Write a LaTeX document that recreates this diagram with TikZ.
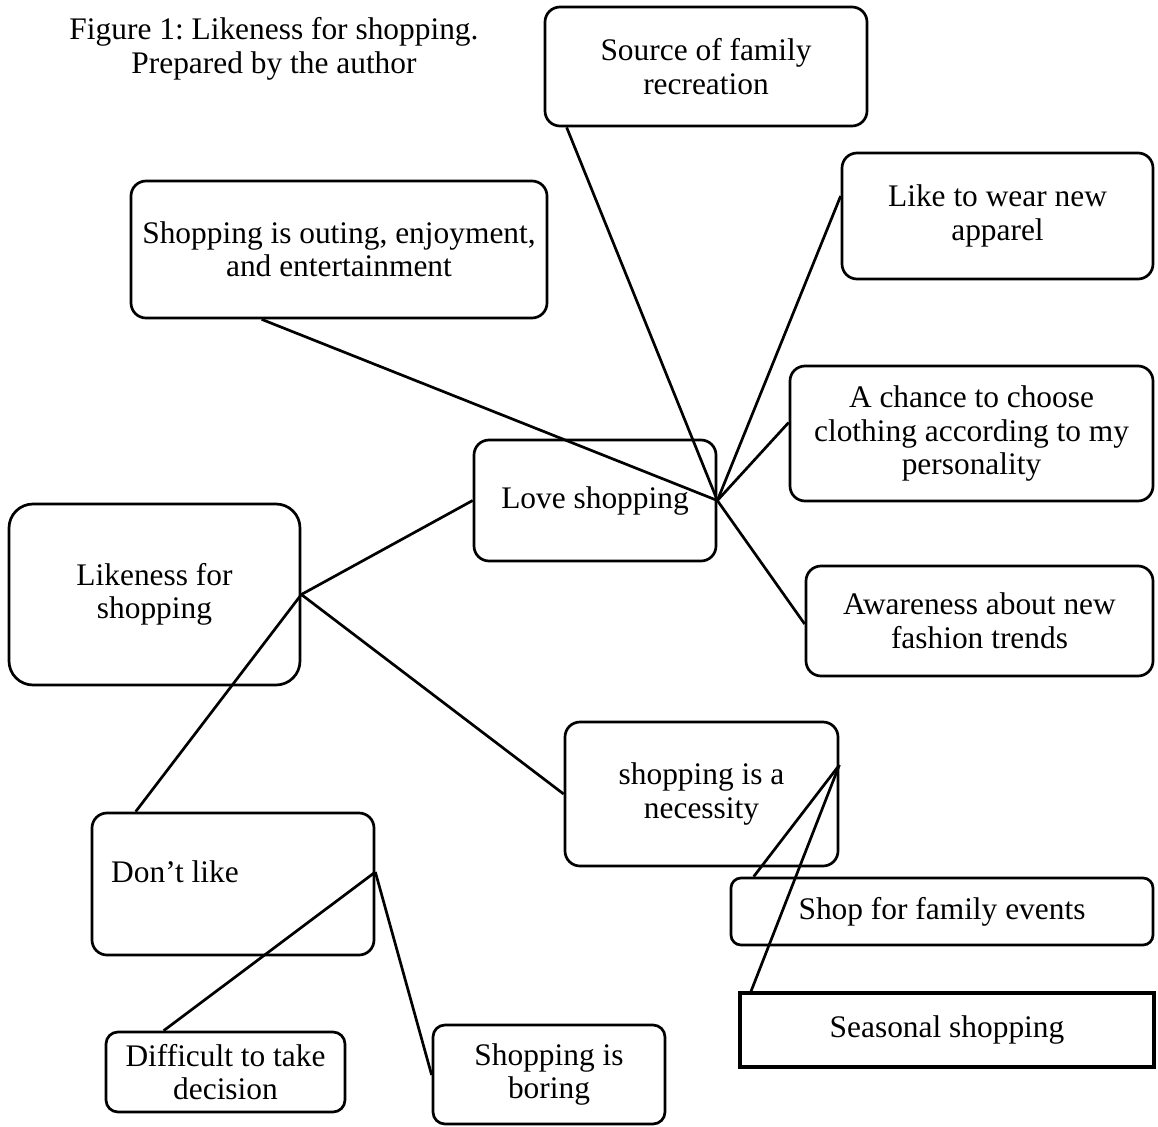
\documentclass[tikz,border=0pt]{standalone}
\usepackage{fontspec}
\setmainfont{Liberation Serif}
\usetikzlibrary{calc}
\frenchspacing
\begin{document}
\begin{tikzpicture}[x=1pt,y=-1pt,
  txt/.style={font=\fontsize{31.4}{33.5}\selectfont, align=center, inner sep=0pt},
  box/.style={txt, draw, line width=2.7pt, rounded corners=15pt},
  link/.style={line width=2.7pt}]
\useasboundingbox (0,0) rectangle (1158,1126);
\node[txt] (title) at (274,49) {Figure 1: Likeness for shopping.\\Prepared by the author};
\node[box, minimum width=322, minimum height=119] (source) at (706,66.5) {Source of family\\recreation};
\node[box, minimum width=416, minimum height=137] (outing) at (339,249.5) {Shopping is outing, enjoyment,\\and entertainment};
\node[box, minimum width=311, minimum height=126] (wear) at (997.5,216) {Like to wear new\\apparel};
\node[box, minimum width=363, minimum height=135] (chance) at (971.5,433.5) {A chance to choose\\clothing according to my\\personality};
\node[box, minimum width=242, minimum height=121] (love) at (595,500.5) {Love shopping};
\node[box, minimum width=347, minimum height=110] (aware) at (979.5,621) {Awareness about new\\fashion trends};
\node[box, rounded corners=24pt, minimum width=291, minimum height=181] (likeness) at (154.5,594.5) {Likeness for\\shopping};
\node[box, minimum width=273, minimum height=144] (nec) at (701.5,794) {shopping is a\\necessity};
\node[box, minimum width=282, minimum height=142] (dont) at (233,884) {};
\node[txt, anchor=west] (donttext) at (111,872) {Don’t like};
\node[box, rounded corners=10pt, minimum width=422, minimum height=67] (family) at (942,911.5) {Shop for family events};
\node[box, rounded corners=0pt, line width=3.8pt, minimum width=414, minimum height=74] (seasonal) at (947,1030) {Seasonal shopping};
\node[box, rounded corners=12pt, minimum width=239, minimum height=80] (difficult) at (225.5,1072) {Difficult to take\\decision};
\node[box, rounded corners=12pt, minimum width=232, minimum height=99] (boring) at (549,1074.5) {Shopping is\\boring};
\coordinate (nh) at ($(nec.east)+(0,-29)$);
\coordinate (dh) at ($(dont.east)+(0,-12)$);
\draw[link] (likeness.east) -- (love.west);
\draw[link] (likeness.east) -- (nec.west);
\draw[link] (likeness.east) -- ($(dont.north west)+(45,0)$);
\draw[link] (love.east) -- ($(outing.south west)+(132,0)$);
\draw[link] (love.east) -- ($(source.south west)+(23,0)$);
\draw[link] (love.east) -- ($(wear.west)+(0,-20)$);
\draw[link] (love.east) -- ($(chance.west)+(0,-11)$);
\draw[link] (love.east) -- ($(aware.west)+(0,3)$);
\draw[link] (nh) -- ($(family.north west)+(24,0)$);
\draw[link] (nh) -- ($(seasonal.north west)+(13,0)$);
\draw[link] (dh) -- ($(difficult.north west)+(59,0)$);
\draw[link] (dh) -- ($(boring.west)+(0,0.5)$);
\end{tikzpicture}
\end{document}
